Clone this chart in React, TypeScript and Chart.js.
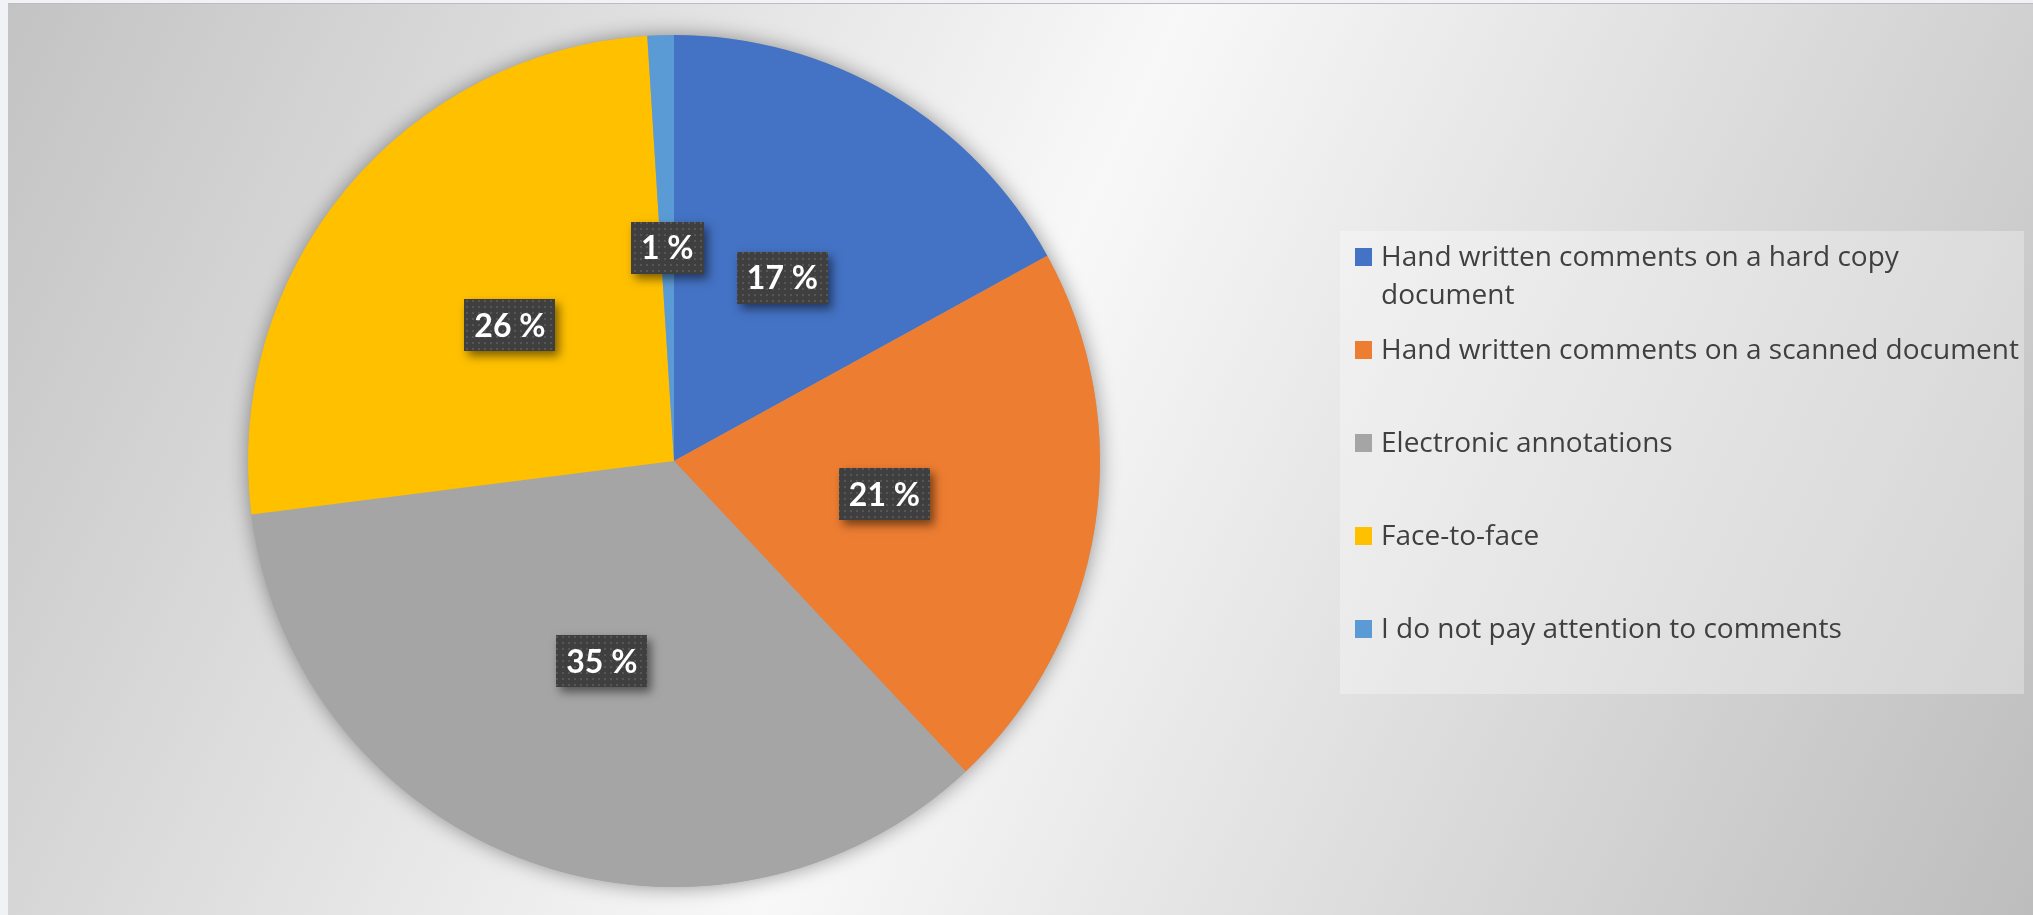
import React, { useEffect, useRef } from 'react';
import { Chart, registerables } from 'chart.js';

Chart.register(...registerables);

// ---- data ----
const categories: string[] = [
  'Hand written comments on a hard copy\ndocument',
  'Hand written comments on a scanned document',
  'Electronic annotations',
  'Face-to-face',
  'I do not pay attention to comments',
];
const shares: number[] = [17, 21, 35, 26, 1];
const sliceColors: string[] = ['#4472C4', '#ED7D31', '#A5A5A5', '#FFC000', '#5B9BD5'];

const W = 2025;
const H = 912;

function makeDotPattern(ctx: CanvasRenderingContext2D) {
  const pc = document.createElement('canvas');
  pc.width = 6;
  pc.height = 6;
  const p = pc.getContext('2d')!;
  p.fillStyle = '#565656';
  p.fillRect(2, 2, 2, 2);
  return ctx.createPattern(pc, 'repeat');
}

const pieShadowPlugin = {
  id: 'pieShadow',
  beforeDatasetsDraw(chart: any) {
    const arc = chart.getDatasetMeta(0).data[0];
    if (!arc) return;
    const { x, y, outerRadius } = arc.getProps(['x', 'y', 'outerRadius'], true);
    const ctx = chart.ctx as CanvasRenderingContext2D;
    ctx.save();
    ctx.shadowColor = 'rgba(0,0,0,0.4)';
    ctx.shadowBlur = 20;
    ctx.fillStyle = '#a5a5a5';
    ctx.beginPath();
    ctx.arc(x, y, outerRadius, 0, Math.PI * 2);
    ctx.fill();
    ctx.restore();
  },
};

const labelBoxPlugin = {
  id: 'labelBoxes',
  afterDatasetsDraw(chart: any) {
    const ctx = chart.ctx as CanvasRenderingContext2D;
    const meta = chart.getDatasetMeta(0);
    const values = chart.data.datasets[0].data as number[];
    const pattern = makeDotPattern(ctx);
    ctx.save();
    ctx.font = 'bold 32px Lato';
    ctx.textAlign = 'center';
    ctx.textBaseline = 'middle';
    meta.data.forEach((arc: any, i: number) => {
      const pos = arc.tooltipPosition(true);
      const text = `${values[i]} %`;
      const tw = ctx.measureText(text).width;
      const bw = Math.round(tw + 20);
      const bh = 52;
      const bx = Math.round(pos.x - bw / 2);
      const by = Math.round(pos.y - bh / 2);
      ctx.save();
      ctx.shadowColor = 'rgba(0,0,0,0.5)';
      ctx.shadowBlur = 9;
      ctx.shadowOffsetX = 4;
      ctx.shadowOffsetY = 5;
      ctx.fillStyle = '#3f3f3f';
      ctx.fillRect(bx, by, bw, bh);
      ctx.restore();
      if (pattern) {
        ctx.fillStyle = pattern;
        ctx.fillRect(bx, by, bw, bh);
      }
      ctx.fillStyle = '#ffffff';
      ctx.fillText(text, pos.x, pos.y + 1);
    });
    ctx.restore();
  },
};

const legendPlugin = {
  id: 'customLegend',
  afterDraw(chart: any) {
    const ctx = chart.ctx as CanvasRenderingContext2D;
    const labels = chart.data.labels as string[];
    const colors = chart.data.datasets[0].backgroundColor as string[];
    ctx.save();
    // legend box
    ctx.fillStyle = 'rgba(255,255,255,0.3)';
    ctx.fillRect(1332, 227, 684, 463);
    ctx.font = '28px "Open Sans"';
    ctx.textAlign = 'left';
    ctx.textBaseline = 'alphabetic';
    labels.forEach((label, i) => {
      const base = 262 + i * 93;
      ctx.fillStyle = colors[i];
      ctx.fillRect(1347, base - 18, 17, 18);
      ctx.fillStyle = '#404040';
      label.split('\n').forEach((line, j) => {
        ctx.fillText(line, 1373, base + j * 38);
      });
    });
    ctx.restore();
  },
};

export default function App() {
  const canvasRef = useRef<HTMLCanvasElement | null>(null);

  useEffect(() => {
    document.body.style.margin = '0';
    document.body.style.overflow = 'hidden';
    document.body.style.background = '#f1f2f6';
    const canvas = canvasRef.current;
    if (!canvas) return;
    const chart = new Chart(canvas, {
      type: 'pie',
      data: {
        labels: categories,
        datasets: [
          {
            data: shares,
            backgroundColor: sliceColors,
            borderWidth: 0,
          },
        ],
      },
      options: {
        responsive: false,
        animation: false,
        layout: {
          padding: { left: 239.5, right: 932.5, top: 31, bottom: 28 },
        },
        plugins: {
          legend: { display: false },
          tooltip: { enabled: false },
        },
      },
      plugins: [pieShadowPlugin, labelBoxPlugin, legendPlugin],
    });
    return () => chart.destroy();
  }, []);

  return (
    <div
      style={{
        position: 'fixed',
        left: 8,
        top: 3,
        width: W,
        height: H,
        background: 'linear-gradient(115deg, #c3c3c3 0%, #f8f8f8 48%, #bdbdbd 100%)',
        borderTop: '1px solid #bdbdbd',
        boxSizing: 'border-box',
      }}
    >
      <canvas ref={canvasRef} width={W} height={H - 1} style={{ display: 'block', width: W, height: H - 1 }} />
    </div>
  );
}
